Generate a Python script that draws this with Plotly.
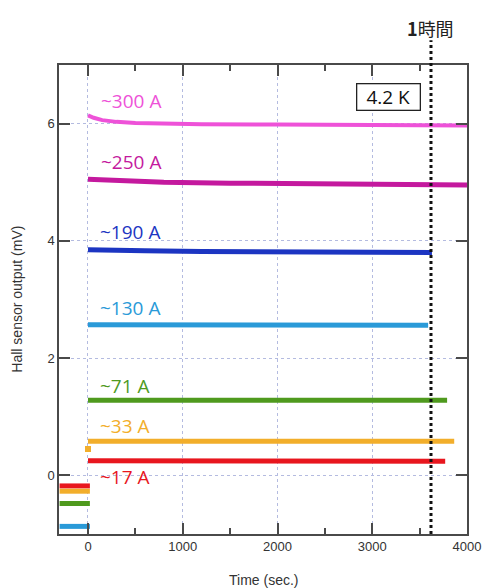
import plotly.graph_objects as go

# ---- data ----
t_300 = [0, 60, 150, 300, 500, 800, 1200, 2000, 3000, 4000]
v_300 = [6.14, 6.10, 6.06, 6.03, 6.01, 6.00, 5.99, 5.985, 5.975, 5.97]
t_250 = [0, 150, 400, 800, 1500, 2500, 3500, 4000]
v_250 = [5.05, 5.04, 5.02, 5.00, 4.985, 4.97, 4.96, 4.955]
t_190 = [0, 200, 600, 1200, 2000, 3000, 3630]
v_190 = [3.85, 3.84, 3.83, 3.82, 3.815, 3.81, 3.80]
t_130 = [0, 1000, 2000, 3000, 3590]
v_130 = [2.57, 2.565, 2.56, 2.56, 2.56]
t_71 = [0, 1000, 2000, 3000, 3790]
v_71 = [1.28, 1.28, 1.28, 1.28, 1.28]
t_33 = [0, 1000, 2000, 3000, 3865]
v_33 = [0.58, 0.58, 0.58, 0.58, 0.58]
t_17 = [0, 1000, 2000, 2400, 3000, 3770]
v_17 = [0.25, 0.25, 0.25, 0.24, 0.24, 0.24]

pre_t = [-300, 20]
pre_17 = [-0.18, -0.18]
pre_33 = [-0.27, -0.27]
pre_71 = [-0.48, -0.48]
pre_130 = [-0.87, -0.87]

dot33_t = [0]
dot33_v = [0.45]

labels = ["~300 A", "~250 A", "~190 A", "~130 A", "~71 A", "~33 A", "~17 A"]
label_y = [6.39, 5.34, 4.15, 2.85, 1.53, 0.85, -0.02]
label_x = [115, 115, 110, 110, 110, 110, 110]
colors = ["#ee52d8", "#c4199e", "#1c35c2", "#2a9ad8", "#4f9a1e", "#f2ae2b", "#e8161e"]
widths = [4, 5, 5, 5, 5, 5, 5]

hour_t = 3620
xticks = [0, 1000, 2000, 3000, 4000]
yticks = [0, 2, 4, 6]

fig = go.Figure()
series = [(t_300, v_300), (t_250, v_250), (t_190, v_190), (t_130, v_130),
          (t_71, v_71), (t_33, v_33), (t_17, v_17)]
for (tt, vv), c, w in zip(series, colors, widths):
    fig.add_trace(go.Scatter(x=tt, y=vv, mode="lines", line=dict(color=c, width=w),
                             showlegend=False, hoverinfo="skip"))
for vv, c in [(pre_17, colors[6]), (pre_33, colors[5]), (pre_71, colors[4]), (pre_130, colors[3])]:
    fig.add_trace(go.Scatter(x=pre_t, y=vv, mode="lines", line=dict(color=c, width=5),
                             showlegend=False, hoverinfo="skip"))
fig.add_trace(go.Scatter(x=dot33_t, y=dot33_v, mode="markers",
                         marker=dict(color=colors[5], size=6, symbol="square"),
                         showlegend=False, hoverinfo="skip"))

for lab, lx, ly, c in zip(labels, label_x, label_y, colors):
    fig.add_annotation(x=lx, y=ly, text=lab, showarrow=False, xanchor="left", yanchor="middle",
                       font=dict(family="Open Sans", size=19, color=c))

fig.add_annotation(x=3175, y=6.46, text="4.2 K", showarrow=False, xanchor="center", yanchor="middle",
                   font=dict(family="Open Sans", size=19, color="#111"),
                   width=62, height=25, borderpad=0,
                   bordercolor="#222", borderwidth=1.3, bgcolor="white")

fig.add_shape(type="line", x0=hour_t, x1=hour_t, xref="x", yref="paper", y0=0, y1=1.053,
              line=dict(color="#111", width=3, dash="dot"))
fig.add_annotation(x=hour_t, xref="x", yref="paper", y=1.079, text="<b>1</b>時間", showarrow=False,
                   yanchor="middle", xanchor="center",
                   font=dict(family="Noto Sans CJK JP", size=18, color="#222"))

# axis titles as paper annotations
fig.add_annotation(xref="paper", yref="paper", x=0.5, y=-0.098, text="Time (sec.)", showarrow=False,
                   xanchor="center", yanchor="middle",
                   font=dict(family="Liberation Sans", size=14, color="#333"))
fig.add_annotation(xref="paper", yref="paper", x=-0.105, y=0.5, text="Hall sensor output (mV)",
                   showarrow=False, textangle=-90, xanchor="center", yanchor="middle",
                   font=dict(family="Liberation Sans", size=14, color="#333"))

axis_common = dict(showline=True, linecolor="#4a4a4a", linewidth=1.5, mirror="ticks",
                   ticks="inside", ticklen=11, tickwidth=1.5, tickcolor="#4a4a4a",
                   showgrid=True, gridcolor="#b4bbe0", griddash="dot", gridwidth=1,
                   zeroline=False, automargin=False, ticklabeloverflow="allow",
                   tickfont=dict(family="Liberation Sans", size=13, color="#333"))

fig.update_xaxes(range=[-306, 4000], tickvals=xticks,
                 minor=dict(ticks="inside", ticklen=6, tickcolor="#4a4a4a", dtick=500, tick0=0,
                            showgrid=False),
                 **axis_common)
fig.update_yaxes(range=[-1.0, 7.0], tickvals=yticks, **axis_common)

fig.update_layout(width=483, height=588, margin=dict(l=59, r=16, t=65, b=54, autoexpand=False),
                  plot_bgcolor="white", paper_bgcolor="white")

fig.write_html("out.html", config={"displayModeBar": False},
               post_script="document.body.style.margin='0';document.body.style.overflow='hidden';")
